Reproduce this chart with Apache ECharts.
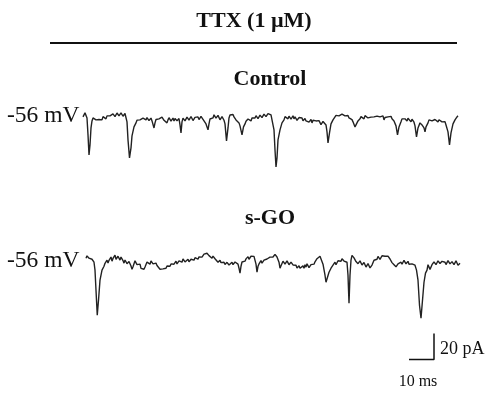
<!DOCTYPE html>
<html>
<head>
<meta charset="utf-8">
<title>TTX (1 µM)</title>
<script src="https://cdn.jsdelivr.net/npm/echarts@6/dist/echarts.min.js"></script>
<style>
    html, body { margin: 0; padding: 0; background: #fff; }
    #main { width: 491px; height: 399px; }
</style>
</head>
<body>
<div id="main"></div>
<script>
// time in ms, current in pA (0 = holding level at -56 mV)
var controlTime = [
    0, 0.8, 1.6, 2.0, 2.4, 2.8, 3.2, 3.6, 4.0, 4.4,
    4.8, 5.2, 5.6, 6.0, 6.4, 6.8, 7.2, 7.6, 8.0, 8.4,
    8.8, 9.2, 9.6, 10.0, 10.4, 10.8, 11.2, 11.6, 12.0, 12.4,
    12.8, 13.2, 13.6, 14.0, 14.4, 14.8, 15.2, 15.6, 16.0, 16.4,
    16.8, 17.2, 17.6, 18.0, 18.6, 19.2, 19.6, 20.4, 21.2, 21.6,
    22.0, 22.4, 22.8, 23.2, 23.6, 24.0, 24.4, 24.8, 25.2, 25.6,
    26.0, 26.4, 26.8, 27.2, 27.6, 28.4, 28.8, 29.2, 29.6, 30.0,
    30.4, 30.8, 31.2, 31.6, 32.0, 32.4, 32.8, 33.6, 34.0, 34.4,
    34.8, 35.2, 35.6, 36.0, 36.4, 36.8, 37.2, 37.6, 38.0, 38.4,
    38.8, 39.2, 39.6, 40.0, 40.4, 40.8, 41.2, 41.6, 42.0, 42.4,
    42.8, 43.2, 43.6, 44.0, 44.4, 44.8, 45.2, 45.6, 46.0, 46.4,
    46.8, 47.2, 47.6, 48.0, 48.4, 48.8, 49.2, 50.0, 50.4, 50.8,
    51.2, 51.6, 52.0, 52.4, 52.8, 53.2, 53.6, 54.0, 54.4, 54.8,
    55.2, 55.6, 56.0, 56.4, 56.8, 57.4, 58.0, 58.4, 58.8, 59.2,
    59.6, 60.0, 60.4, 60.8, 61.2, 61.6, 62.0, 62.4, 62.8, 63.6,
    64.2, 64.8, 65.2, 65.6, 66.0, 66.4, 66.8, 67.2, 67.6, 68.0,
    68.4, 68.8, 69.2, 69.6, 70.0, 70.4, 70.8, 71.2, 71.6, 72.0,
    72.4, 72.8, 73.2, 73.6, 74.0, 74.4, 74.8, 75.2, 75.6, 76.0,
    76.4, 76.8, 77.2, 77.6, 78.0, 78.8, 79.6, 80.0, 80.4, 80.8,
    81.2, 81.6, 82.0, 82.4, 82.8, 83.2, 83.6, 84.0, 84.4, 84.8,
    85.2, 85.6, 86.0, 86.4, 86.8, 87.2, 87.6, 88.0, 88.4, 88.8,
    89.2, 89.6, 90.0, 90.4, 90.8, 91.2, 91.6, 92.0, 92.4, 92.8,
    93.2, 93.6, 94.0, 94.4, 94.8, 95.2, 95.6, 96.0, 96.4, 96.8,
    97.2, 97.6, 98.0, 98.6, 99.2, 100.0, 100.4, 100.8, 101.2, 101.6,
    102.0, 102.4, 102.8, 103.2, 103.6, 104.0, 104.4, 104.8, 105.2, 105.6,
    106.0, 106.4, 106.8, 107.2, 107.6, 108.0, 108.8, 109.4, 110.0, 110.4,
    110.8, 111.2, 111.6, 112.0, 112.4, 112.8, 113.2, 113.6, 114.0, 114.4,
    114.8, 115.2, 115.6, 116.0, 116.4, 116.8, 117.2, 117.6, 118.0, 118.4,
    118.8, 119.2, 119.6, 120.0, 120.4, 120.8, 121.2, 121.6, 122.0, 122.4,
    122.8, 123.2, 123.6, 124.0, 124.4, 125.2, 125.8, 126.4, 127.2, 127.6,
    128.0, 128.4, 128.8, 129.2, 129.6, 130.0, 130.4, 130.8, 131.2, 131.6,
    132.0, 132.4, 132.8, 133.4, 134.0, 134.8, 135.2, 135.6, 136.4, 136.8,
    137.2, 138.0, 138.4, 138.8, 139.2, 139.6, 140.0, 140.4, 140.8, 141.2,
    141.6, 142.0, 142.4, 142.8, 143.2, 143.6, 144.0, 144.4, 144.8, 145.2,
    146.0, 146.6, 147.2, 148.0, 148.8, 149.2, 149.6, 150.0
];
var controlCurrent = [
    0, 3.1, -0.8, -13.8, -29.2, -21.5, -8.5, -3.1, -0.8, -1.5,
    -0.2, -2.3, -1.2, -3.8, -2.0, -3.1, -1.0, -2.3, 0.2, -0.8,
    0.5, -1.5, 0.8, 0, 1.8, 0.8, 2.0, 0, 2.3, 1.5,
    0.2, 0.8, 3.0, 2.3, 0.8, 1.5, 3.1, 2.3, 0.5, 0.8,
    2.6, 1.5, -3.8, -17.7, -31.5, -23.8, -14.6, -7.7, -4.6, -2.5,
    -3.1, -1.2, -2.3, -0.8, -3.1, -1.0, -1.5, 0.2, -2.3, -0.5,
    -0.8, -2.8, -2.3, -0.9, -3.1, -8.5, -4.6, -2.0, -3.1, -0.9,
    -1.5, -3.0, -2.3, -0.2, -0.8, -2.6, -2.3, -4.6, -2.3, -0.6,
    -1.5, -3.2, -2.3, -0.9, -3.1, -1.2, -0.8, -2.9, -2.3, -1.3,
    -6.2, -12.3, -3.8, -0.9, -1.5, -3.0, -2.3, -0.2, -0.8, -2.5,
    -1.5, 0.3, -0.8, -2.8, -2.3, -0.4, -1.5, 0.9, 0, -2.1,
    -1.5, 0.4, -0.8, -1.9, -3.1, -2.0, -5.4, -10, -5.4, -1.6,
    -2.3, -0.3, -0.8, 1.6, 0.8, -0.9, -0.8, 1.2, 0, -2.2,
    -1.5, 0.2, -0.8, -2.6, -5.4, -18.5, -8.5, -0.8, 1.5, 2.6,
    0.8, 1.8, 0, -0.8, -2.3, -1.6, -3.8, -4.6, -6.9, -13.8,
    -7.7, -5.4, -3.3, -3.8, -1.6, -2.3, -1.2, -3.1, -0.9, -1.5,
    0.4, -0.8, 0.9, 0, -1.4, -0.8, 1.4, 0.8, -0.6, 0,
    2.1, 1.5, 0.2, 0.8, 2.6, 1.5, 2.8, 1.5, 2.4, 0.8,
    -10, -25.4, -38.5, -31.5, -17.7, -10, -4.6, -3.4, -2.3, 0.2,
    -0.8, 0.4, -1.5, 0.6, 0, -1.8, -0.8, 0.9, -1.5, 0.1,
    -0.8, -2.6, -2.3, -0.5, -1.5, -0.2, -0.8, -2.9, -2.3, -1.2,
    -3.1, -1.6, -2.3, -4.0, -3.1, -2.0, -4.6, -2.6, -3.8, -1.8,
    -3.1, -2.4, -4.6, -2.9, -3.8, -5.9, -5.4, -3.5, -4.6, -3.9,
    -6.2, -11.5, -20, -12.3, -5.4, -2.3, -1.2, -0.8, 1.2, 0,
    2.0, 0.8, -0.6, 0, 2.2, 0.8, 2.3, 0.8, 1.9, 0,
    1.1, -0.8, -1.0, -2.3, -2.1, -3.8, -7.7, -5.4, -3.1, -2.5,
    -1.5, 0.2, -0.8, 0.6, -1.5, 1.0, 0, 1.6, -0.8, 0.4,
    -2.3, -0.2, -0.8, 1.3, 0, -0.4, -1.5, 0.6, -0.8, 1.4,
    0, 1.0, -0.8, 0.8, -2.3, -0.5, -1.5, 0.9, 0, 1.5,
    -0.8, 0.4, -1.5, -0.6, -3.1, -6.9, -13.8, -7.7, -3.8, -1.5,
    -2.3, -0.4, -1.5, -2.9, -3.1, -1.0, -2.3, -1.4, -3.8, -1.8,
    -3.1, -4.1, -6.9, -15.4, -8.5, -4.6, -3.5, -6.2, -8.5, -11.5,
    -7.7, -4.6, -2.3, -3.8, -2.0, -3.1, -1.6, -3.8, -2.0, -3.1,
    -1.4, -3.8, -2.2, -3.1, -1.8, -3.8, -2.4, -4.6, -3.6, -6.2,
    -11.5, -21.5, -12.3, -5.4, -2.3, -1.0, 0, 0.8
];

var sgoTime = [
    1.2, 1.6, 2.0, 2.4, 2.8, 3.2, 3.6, 4.0, 4.4, 4.8,
    5.2, 5.7, 6.2, 6.8, 7.6, 8.0, 8.4, 8.8, 9.2, 9.6,
    10.0, 10.4, 10.8, 11.2, 11.6, 12.0, 12.4, 12.8, 13.2, 13.6,
    14.0, 14.4, 14.8, 15.2, 15.6, 16.0, 16.4, 16.8, 17.2, 17.6,
    18.0, 18.4, 18.8, 19.2, 19.6, 20.0, 20.4, 20.8, 21.2, 21.6,
    22.0, 22.4, 22.8, 23.2, 23.6, 24.0, 24.4, 24.8, 25.2, 25.6,
    26.0, 26.4, 26.8, 27.2, 27.6, 28.0, 28.4, 28.8, 29.2, 29.6,
    30.0, 30.4, 30.8, 31.2, 31.6, 32.0, 32.4, 32.8, 33.2, 33.6,
    34.0, 34.4, 34.8, 35.2, 35.6, 36.0, 36.4, 36.8, 37.2, 37.6,
    38.0, 38.4, 38.8, 39.2, 39.6, 40.0, 40.4, 40.8, 41.2, 41.6,
    42.0, 42.4, 42.8, 43.2, 43.6, 44.0, 44.4, 44.8, 45.2, 45.6,
    46.0, 46.4, 46.8, 47.2, 47.6, 48.0, 48.4, 48.8, 49.2, 49.6,
    50.0, 50.4, 50.8, 51.2, 51.6, 52.0, 52.4, 52.8, 53.2, 53.6,
    54.0, 54.4, 54.8, 55.2, 55.6, 56.0, 56.4, 56.8, 57.2, 57.6,
    58.0, 58.4, 58.8, 59.2, 59.6, 60.0, 60.4, 60.8, 61.2, 61.6,
    62.0, 62.4, 62.8, 63.2, 63.6, 64.0, 64.4, 64.8, 65.2, 65.6,
    66.0, 66.4, 66.8, 67.2, 67.6, 68.0, 68.4, 68.8, 69.2, 69.6,
    70.0, 70.4, 70.8, 71.2, 71.6, 72.0, 72.4, 72.8, 73.2, 73.6,
    74.0, 74.4, 74.8, 75.2, 75.6, 76.0, 76.4, 76.8, 77.2, 77.6,
    78.0, 78.4, 78.8, 79.2, 79.6, 80.0, 80.4, 80.8, 81.2, 81.6,
    82.0, 82.4, 82.8, 83.2, 83.6, 84.0, 84.4, 84.8, 85.2, 85.6,
    86.0, 86.4, 86.8, 87.2, 87.6, 88.0, 88.4, 88.8, 89.2, 89.6,
    90.0, 90.4, 90.8, 91.2, 91.6, 92.0, 92.4, 92.8, 93.2, 93.6,
    94.0, 94.4, 94.8, 95.2, 96.0, 96.8, 97.2, 97.8, 98.4, 99.2,
    100.0, 100.4, 100.8, 101.2, 101.6, 102.0, 102.4, 102.8, 103.2, 103.6,
    104.0, 104.4, 104.8, 105.2, 105.6, 106.0, 106.4, 106.8, 107.2, 107.6,
    108.0, 108.4, 108.8, 109.2, 109.6, 110.0, 110.4, 110.8, 111.2, 111.6,
    112.0, 112.4, 112.8, 113.2, 113.6, 114.0, 114.4, 114.8, 115.2, 115.6,
    116.0, 116.4, 116.8, 117.2, 117.6, 118.0, 118.4, 118.8, 119.2, 119.6,
    120.0, 120.4, 120.8, 121.2, 121.6, 122.0, 122.4, 122.8, 123.2, 123.6,
    124.0, 124.4, 124.8, 125.2, 125.6, 126.0, 126.4, 126.8, 127.2, 127.6,
    128.0, 128.4, 128.8, 129.2, 129.6, 130.0, 130.4, 130.8, 131.2, 131.6,
    132.0, 132.4, 132.8, 133.4, 134.0, 134.6, 135.2, 135.8, 136.4, 137.0,
    137.6, 138.0, 138.4, 138.8, 139.2, 139.6, 140.0, 140.4, 140.8, 141.2,
    141.6, 142.0, 142.4, 142.8, 143.2, 143.6, 144.0, 144.4, 144.8, 145.2,
    145.6, 146.0, 146.4, 146.8, 147.2, 147.6, 148.0, 148.4, 148.8, 149.2,
    149.6, 150.0, 150.4, 150.8
];
var sgoCurrent = [
    0, 1.8, 1.5, 0.0, 0.8, 1.0, -0.8, -1.6, -3.1, -9.2,
    -24.6, -43.8, -32.3, -16.9, -9.2, -8.0, -6.2, -3.9, -3.1, -1.5,
    -3.8, -1.6, -0.8, 0.9, -2.3, -0.2, 0.8, 2.4, -0.8, 0.6,
    1.5, 0.0, -1.5, 0.9, 0, -1.8, -3.8, -1.4, -2.3, -4.2,
    -5.4, -2.6, -3.8, -6.0, -8.5, -6.6, -5.4, -2.0, -3.1, -4.9,
    -6.2, -3.7, -4.6, -7.8, -6.9, -9.0, -8.5, -6.8, -5.4, -3.0,
    -1.5, -3.3, -4.6, -2.1, -3.1, -4.4, -5.4, -2.9, -3.8, -5.6,
    -6.9, -6.1, -8.5, -7.4, -10, -8.2, -6.9, -8.9, -7.7, -6.0,
    -5.4, -7.3, -6.2, -4.4, -3.8, -5.7, -4.6, -3.2, -2.3, -4.4,
    -3.8, -2.1, -1.5, -3.5, -3.1, -0.6, -1.5, -2.9, -3.1, -1.6,
    -0.8, -2.8, -2.3, -0.8, 0, -2.3, -1.5, 0.4, 0.8, -1.0,
    -0.8, 1.0, 1.5, -0.2, 0.8, 2.2, 3.1, 1.6, 2.3, 3.8,
    3.1, 2.0, 1.5, 2.3, 0, 1.6, 0.8, -0.4, -1.5, -0.8,
    -3.1, -2.0, -1.5, -3.4, -4.6, -2.6, -3.1, -4.8, -5.4, -3.2,
    -3.8, -5.2, -6.2, -4.0, -3.1, -5.0, -4.6, -2.9, -2.3, -3.5,
    -4.6, -7.7, -11.5, -6.2, -2.9, -1.5, -3.2, -2.3, -0.5, 0,
    1.2, -0.8, 0.5, 1.5, 3.0, 2.3, 1.4, 0, -4.6, -10.8,
    -6.2, -4.4, -3.1, -1.8, -3.8, -2.5, -1.5, -3.0, -2.3, -0.6,
    0, -1.2, 0.8, 2.2, 0, 0.9, 1.5, 3.0, 2.3, 0.9,
    1.5, -3.1, -7.7, -5.8, -4.6, -2.3, -3.1, -4.6, -3.8, -2.1,
    -3.1, -5.0, -4.6, -3.0, -3.8, -5.2, -6.2, -4.2, -5.4, -7.6,
    -6.9, -5.8, -7.7, -8.8, -6.2, -5.9, -7.7, -5.0, -6.9, -4.3,
    -5.4, -7.3, -6.2, -4.9, -3.8, -5.7, -4.6, -2.8, -2.3, -0.4,
    -0.8, 1.0, 1.5, 0, -4.6, -13.1, -18.5, -14.6, -10.8, -7.7,
    -5.4, -4.0, -3.1, -5.0, -3.8, -2.0, -1.5, -3.3, -2.3, -0.4,
    -0.8, -2.2, -3.1, -1.6, -3.1, -13.1, -34.6, -13.1, -1.5, 2.2,
    1.5, 0.2, -0.8, -2.6, -2.3, -4.2, -3.8, -2.1, -3.1, -5.2,
    -5.4, -3.3, -4.6, -6.8, -6.2, -4.1, -5.4, -7.5, -6.9, -5.3,
    -3.8, -1.6, -2.3, -0.1, -0.8, 1.4, 0.8, -0.9, 0, 1.9,
    2.3, 3.3, 1.5, 0.4, 0, 1.6, 0.8, -0.6, -1.5, -3.4,
    -3.1, -5.0, -4.6, -6.6, -6.9, -4.3, -5.4, -3.6, -3.1, -4.7,
    -3.8, -1.6, -2.3, -4.3, -3.1, -2.4, -4.6, -5.6, -3.8, -4.4,
    -5.4, -3.7, -5.4, -9.2, -16.9, -36.2, -46.2, -32.3, -18.5, -11.5,
    -9.2, -5.0, -6.2, -8.6, -7.7, -5.0, -4.6, -2.8, -3.1, -5.0,
    -3.8, -2.0, -2.3, -4.1, -3.1, -2.4, -3.8, -2.0, -3.1, -4.9,
    -3.8, -1.9, -3.1, -4.4, -4.6, -2.6, -3.1, -4.9, -3.8, -2.0,
    -3.1, -5.4, -4.6, -3.8
];

// scale bar: 10 ms x 20 pA
var scaleBarTime = [130.4, 140.4, 140.4];
var scaleBarCurrent = [-78, -78, -58];

function zip(xs, ys) {
    var out = [];
    var n = Math.min(xs.length, ys.length);
    for (var i = 0; i < n; i++) {
        out.push([xs[i], ys[i]]);
    }
    return out;
}

var chart = echarts.init(document.getElementById('main'));
var serifFont = '"Liberation Serif", "Times New Roman", serif';

var hiddenAxis = {
    show: false,
    splitLine: { show: false }
};

option = {
    backgroundColor: '#fff',
    animation: false,
    grid: [
        { left: 83, top: 100, width: 380, height: 78 },   // control
        { left: 83, top: 240, width: 380, height: 127.4 } // s-GO + scale bar
    ],
    xAxis: [
        Object.assign({ type: 'value', gridIndex: 0, min: 0, max: 152 }, hiddenAxis),
        Object.assign({ type: 'value', gridIndex: 1, min: 0, max: 152 }, hiddenAxis)
    ],
    yAxis: [
        Object.assign({ type: 'value', gridIndex: 0, min: -47, max: 13 }, hiddenAxis),
        Object.assign({ type: 'value', gridIndex: 1, min: -84, max: 14 }, hiddenAxis)
    ],
    series: [{
        name: 'Control',
        type: 'line',
        xAxisIndex: 0,
        yAxisIndex: 0,
        showSymbol: false,
        lineStyle: { color: '#222', width: 1.4 },
        data: zip(controlTime, controlCurrent)
    }, {
        name: 's-GO',
        type: 'line',
        xAxisIndex: 1,
        yAxisIndex: 1,
        showSymbol: false,
        lineStyle: { color: '#222', width: 1.4 },
        data: zip(sgoTime, sgoCurrent)
    }, {
        name: 'scale',
        type: 'line',
        xAxisIndex: 1,
        yAxisIndex: 1,
        showSymbol: false,
        lineStyle: { color: '#111', width: 1.5 },
        data: zip(scaleBarTime, scaleBarCurrent)
    }],
    graphic: [
        { type: 'text', style: { text: 'TTX (1 µM)', x: 254, y: 21, font: 'bold 22px ' + serifFont, fill: '#111', textAlign: 'center', textVerticalAlign: 'middle' } },
        { type: 'line', shape: { x1: 50, y1: 43, x2: 457, y2: 43 }, style: { stroke: '#111', lineWidth: 2 } },
        { type: 'text', style: { text: 'Control', x: 270, y: 79, font: 'bold 22px ' + serifFont, fill: '#111', textAlign: 'center', textVerticalAlign: 'middle' } },
        { type: 'text', style: { text: 's-GO', x: 270, y: 218, font: 'bold 22px ' + serifFont, fill: '#111', textAlign: 'center', textVerticalAlign: 'middle' } },
        { type: 'text', style: { text: '-56 mV', x: 7, y: 116, font: '23.5px ' + serifFont, fill: '#111', textAlign: 'left', textVerticalAlign: 'middle' } },
        { type: 'text', style: { text: '-56 mV', x: 7, y: 261, font: '23.5px ' + serifFont, fill: '#111', textAlign: 'left', textVerticalAlign: 'middle' } },
        { type: 'text', style: { text: '20 pA', x: 440, y: 349, font: '18px ' + serifFont, fill: '#111', textAlign: 'left', textVerticalAlign: 'middle' } },
        { type: 'text', style: { text: '10 ms', x: 418, y: 382, font: '16px ' + serifFont, fill: '#111', textAlign: 'center', textVerticalAlign: 'middle' } }
    ]
};

chart.setOption(option);
</script>
</body>
</html>
